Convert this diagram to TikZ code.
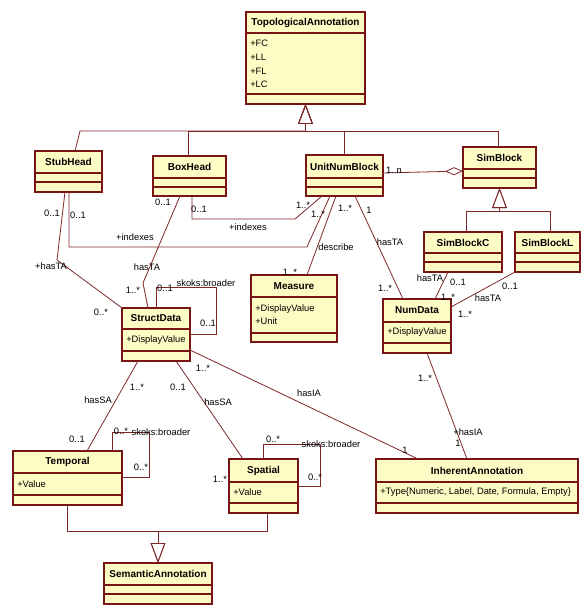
\documentclass[tikz,border=0pt]{standalone}
\usepackage{fontspec}
\setmainfont{Liberation Sans}
\usetikzlibrary{arrows.meta,calc}
\definecolor{boxfill}{RGB}{255,251,196}
\definecolor{boxdraw}{RGB}{120,20,20}
\definecolor{linec}{RGB}{128,40,40}
\tikzset{
 classbox/.style={draw=boxdraw, fill=boxfill, line width=0.8pt, inner sep=0pt, outer sep=0pt},
 classtitle/.style={font=\fontsize{7.5}{9}\selectfont\bfseries, inner sep=0pt},
 attr/.style={font=\fontsize{7}{8}\selectfont, inner sep=0pt, anchor=west},
 lbl/.style={font=\fontsize{7}{8}\selectfont, inner sep=0pt},
 compline/.style={draw=boxdraw, line width=0.8pt},
 assoc/.style={draw=linec, line width=0.6pt},
 gen/.style={assoc, -{Triangle[open, length=15pt, width=11pt]}},
 aggr/.style={assoc, {Diamond[open, length=13.5pt, width=6pt]}-},
}
\newcommand\umlclass[8]{%
 \pgfmathsetmacro\umlw{(#4-#2)*0.75}%
 \pgfmathsetmacro\umlh{(#5-#3)*0.75}%
 \node[classbox, minimum width=\umlw pt, minimum height=\umlh pt] (#1) at ({(#2+#4)/2},{(#3+#5)/2}) {};
 \node[classtitle] (#1-title) at ({(#2+#4)/2},{(#3+#6)/2}) {#8};
 \draw[compline] (#2,#6) -- (#4,#6) (#2,#7) -- (#4,#7);
}
\begin{document}
\begin{tikzpicture}[x=0.75pt,y=-0.75pt]
\useasboundingbox (0,0) rectangle (581,606);
\fill[white] (0,0) rectangle (581,606);

% ---------- classes ----------
\umlclass{Topo}{246}{12}{365}{104}{33}{94}{TopologicalAnnotation}
\node[attr] (Topo-a1) at (250,43) {+FC};
\node[attr] (Topo-a2) at (250,57) {+LL};
\node[attr] (Topo-a3) at (250,71) {+FL};
\node[attr] (Topo-a4) at (250,84) {+LC};

\umlclass{StubHead}{35}{151}{102}{192}{173}{182}{StubHead}
\umlclass{BoxHead}{153}{156}{226}{196}{178}{187}{BoxHead}
\umlclass{UnitNumBlock}{306}{155}{383}{196}{178}{187}{UnitNumBlock}
\umlclass{SimBlock}{463}{147}{536}{188}{169}{178}{SimBlock}
\umlclass{SimBlockC}{424}{232}{502}{272}{253}{262}{SimBlockC}
\umlclass{SimBlockL}{515}{232}{580}{272}{253}{262}{SimBlockL}

\umlclass{Measure}{251}{275}{337}{342}{297}{333}{Measure}
\node[attr] (Measure-a1) at (255,309) {+DisplayValue};
\node[attr] (Measure-a2) at (255,321) {+Unit};

\umlclass{NumData}{383}{299}{451}{353}{322}{343}{NumData}
\node[attr] (NumData-a1) at (387,332) {+DisplayValue};

\umlclass{StructData}{122}{308}{190}{361}{329}{351}{StructData}
\node[attr] (StructData-a1) at (126,340) {+DisplayValue};

\umlclass{Temporal}{13}{451}{122}{505}{473}{495}{Temporal}
\node[attr] (Temporal-a1) at (17,484) {+Value};

\umlclass{Spatial}{229}{459}{298}{513}{482}{503}{Spatial}
\node[attr] (Spatial-a1) at (233,492) {+Value};

\umlclass{Inherent}{376}{459}{578}{513}{482}{503}{InherentAnnotation}
\node[attr] (Inherent-a1) at (380,492) {+Type\{Numeric, Label, Date, Formula, Empty\}};

\umlclass{Semantic}{104}{563}{212}{604}{585}{594}{SemanticAnnotation}

% ---------- generalizations ----------
\draw[gen] ($(StubHead.north west)+(40,0)$) -- (80,131) -- ($(Topo.south)+(0,27)$) -- (Topo.south);
\draw[gen] ($(BoxHead.north west)+(35,0)$) |- ($(Topo.south)+(0,27)$) -- (Topo.south);
\draw[gen] ($(UnitNumBlock.north west)+(38,0)$) |- ($(Topo.south)+(0,27)$) -- (Topo.south);
\draw[gen] ($(SimBlock.north west)+(35,0)$) |- ($(Topo.south)+(0,27)$) -- (Topo.south);

\draw[gen] ($(SimBlockC.north west)+(42,0)$) |- ($(SimBlock.south)+(0,23)$) -- (SimBlock.south);
\draw[gen] ($(SimBlockL.north west)+(35,0)$) |- ($(SimBlock.south)+(0,23)$) -- (SimBlock.south);

\draw[gen] (Temporal.south) |- ($(Semantic.north)+(0,-32)$) -- (Semantic.north);
\draw[gen] ($(Spatial.south west)+(38,0)$) |- ($(Semantic.north)+(0,-32)$) -- (Semantic.north);

% ---------- aggregation ----------
\draw[aggr] ($(SimBlock.north west)+(0,24)$) -- ($(UnitNumBlock.north east)+(0,18)$);
\node[lbl] (l-agg) at (394,170) {1..n};

% ---------- associations ----------
% StubHead - StructData
\draw[assoc] ($(StubHead.south west)+(30,0)$) -- (57,260) -- (StructData.north west);
\node[lbl] (l1a) at (52,213) {0..1};
\node[lbl] (l1b) at (51,266) {+hasTA};
\node[lbl] (l1c) at (101,312) {0..*};

% StubHead - UnitNumBlock
\draw[assoc] ($(StubHead.south west)+(34,0)$) -- (69,247) -- (307,247) -- ($(UnitNumBlock.south west)+(24,0)$);
\node[lbl] (l2a) at (78,215) {0..1};
\node[lbl] (l2b) at (135,237) {+indexes};
\node[lbl] (l2c) at (318,214) {1..*};

% BoxHead - UnitNumBlock
\draw[assoc] ($(BoxHead.south west)+(39,0)$) -- (192,219) -- (295,219) -- ($(UnitNumBlock.south west)+(16,0)$);
\node[lbl] (l3a) at (199,209) {0..1};
\node[lbl] (l3b) at (248,227) {+indexes};
\node[lbl] (l3c) at (303,205) {1..*};

% UnitNumBlock - Measure
\draw[assoc] ($(UnitNumBlock.south west)+(30,0)$) -- ($(Measure.north west)+(56,0)$);
\node[lbl] (l4a) at (345,208) {1..*};
\node[lbl] (l4b) at (336,247) {describe};
\node[lbl] (l4c) at (290,272) {1..*};

% UnitNumBlock - NumData
\draw[assoc] ($(UnitNumBlock.south west)+(49,0)$) -- ($(NumData.north west)+(20,0)$);
\node[lbl] (l5a) at (369,210) {1};
\node[lbl] (l5b) at (390,242) {hasTA};
\node[lbl] (l5c) at (385,288) {1..*};

% BoxHead - StructData
\draw[assoc] ($(BoxHead.south west)+(27,0)$) -- (143,283) -- ($(StructData.north west)+(26,0)$);
\node[lbl] (l7a) at (163,202) {0..1};
\node[lbl] (l7b) at (147,267) {hasTA};
\node[lbl] (l7c) at (133,290) {1..*};

% StructData self
\draw[assoc] ($(StructData.north west)+(34,0)$) -- (156,287) -- (216,287) -- (216,334) -- ($(StructData.north east)+(0,26)$);
\node[lbl] (l8a) at (165,288) {0..1};
\node[lbl] (l8b) at (206,283) {skoks:broader};
\node[lbl] (l8c) at (208,323) {0..1};

% StructData - InherentAnnotation
\draw[assoc] ($(StructData.north east)+(0,42)$) -- ($(Inherent.north west)+(42,0)$);
\node[lbl] (l9a) at (203,368) {1..*};
\node[lbl] (l9b) at (309,393) {hasIA};
\node[lbl] (l9c) at (405,450) {1};

% NumData - InherentAnnotation
\draw[assoc] ($(NumData.south west)+(44,0)$) -- ($(Inherent.north west)+(91,0)$);
\node[lbl] (l10a) at (425,378) {1..*};
\node[lbl] (l10b) at (468,432) {+hasIA};
\node[lbl] (l10c) at (458,443) {1};

% SimBlockC - NumData
\draw[assoc] ($(SimBlockC.south west)+(24,0)$) -- ($(NumData.north west)+(52,0)$);
\node[lbl] (l11a) at (430,278) {hasTA};
\node[lbl] (l11b) at (458,282) {0..1};
\node[lbl] (l11c) at (448,297) {1..*};

% SimBlockL - NumData
\draw[assoc] (SimBlockL.south west) -- ($(NumData.north east)+(0,8)$);
\node[lbl] (l12a) at (510,286) {0..1};
\node[lbl] (l12b) at (488,298) {hasTA};
\node[lbl] (l12c) at (465,314) {1..*};

% StructData - Temporal
\draw[assoc] ($(StructData.south west)+(16,0)$) -- ($(Temporal.north west)+(74,0)$);
\node[lbl] (l13a) at (137,387) {1..*};
\node[lbl] (l13b) at (98,400) {hasSA};
\node[lbl] (l13c) at (77,439) {0..1};

% StructData - Spatial
\draw[assoc] ($(StructData.south west)+(54,0)$) -- ($(Spatial.north west)+(14,0)$);
\node[lbl] (l14a) at (178,387) {0..1};
\node[lbl] (l14b) at (218,402) {hasSA};
\node[lbl] (l14c) at (220,479) {1..*};

% Temporal self
\draw[assoc] ($(Temporal.north west)+(99,0)$) -- (112,432) -- (149,432) -- (149,477) -- ($(Temporal.north east)+(0,26)$);
\node[lbl] (l15a) at (121,431) {0..*};
\node[lbl] (l15b) at (161,432) {skoks:broader};
\node[lbl] (l15c) at (141,467) {0..*};

% Spatial self
\draw[assoc] ($(Spatial.north west)+(34,0)$) -- (263,444) -- (320,444) -- (320,486) -- ($(Spatial.north east)+(0,27)$);
\node[lbl] (l16a) at (273,439) {0..*};
\node[lbl] (l16b) at (331,444) {skoks:broader};
\node[lbl] (l16c) at (315,477) {0..*};
\end{tikzpicture}
\end{document}
